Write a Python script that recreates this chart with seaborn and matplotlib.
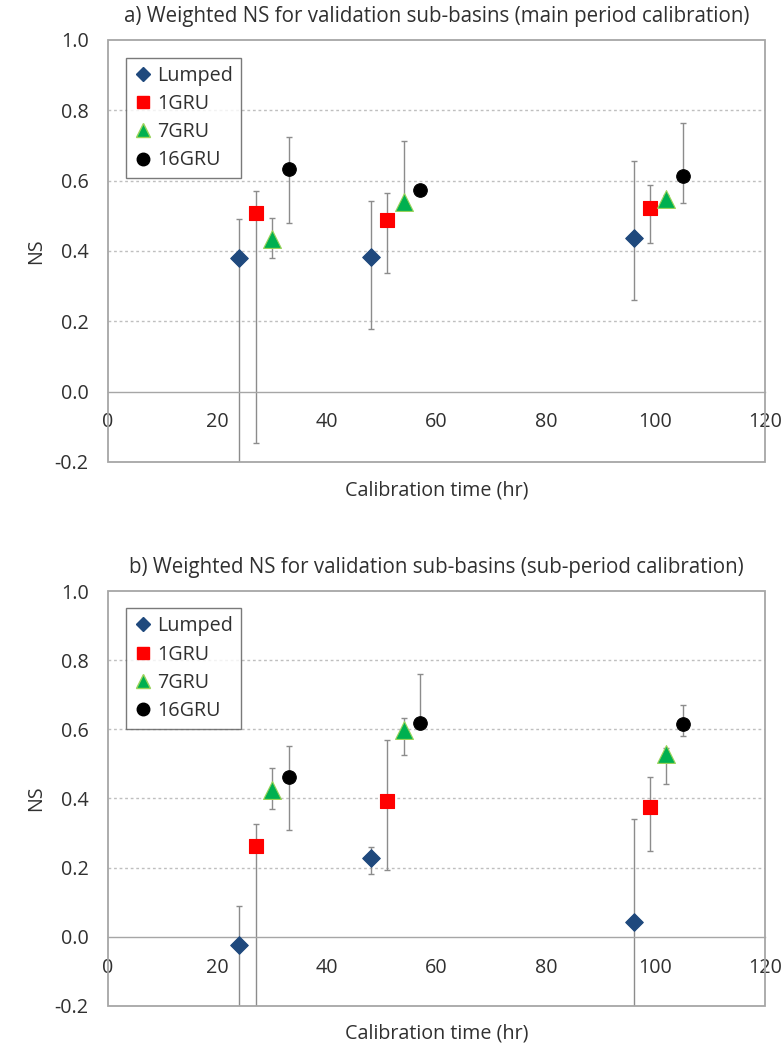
import numpy as np
import pandas as pd
import matplotlib
matplotlib.use("Agg")
import matplotlib.pyplot as plt
from matplotlib.lines import Line2D
from matplotlib.patches import Rectangle
import seaborn as sns

# Calibration times (hr) for each model configuration
lumped_x = [24, 48, 96]
gru1_x = [27, 51, 99]
gru7_x = [30, 54, 102]
gru16_x = [33, 57, 105]

# a) main period calibration: weighted NS, with lower / upper range
a_lumped = [0.380, 0.384, 0.437]
a_lumped_lo = [-0.35, 0.177, 0.262]
a_lumped_hi = [0.490, 0.543, 0.656]
a_gru1 = [0.509, 0.489, 0.521]
a_gru1_lo = [-0.146, 0.337, 0.424]
a_gru1_hi = [0.570, 0.564, 0.589]
a_gru7 = [0.435, 0.539, 0.549]
a_gru7_lo = [0.380, 0.520, 0.527]
a_gru7_hi = [0.495, 0.713, 0.560]
a_gru16 = [0.634, 0.572, 0.612]
a_gru16_lo = [0.479, 0.560, 0.535]
a_gru16_hi = [0.723, 0.585, 0.763]

# b) sub-period calibration
b_lumped = [-0.024, 0.227, 0.042]
b_lumped_lo = [-0.35, 0.182, -0.35]
b_lumped_hi = [0.088, 0.261, 0.340]
b_gru1 = [0.262, 0.392, 0.375]
b_gru1_lo = [-0.35, 0.192, 0.247]
b_gru1_hi = [0.325, 0.568, 0.461]
b_gru7 = [0.426, 0.598, 0.530]
b_gru7_lo = [0.370, 0.527, 0.441]
b_gru7_hi = [0.487, 0.632, 0.545]
b_gru16 = [0.463, 0.617, 0.615]
b_gru16_lo = [0.308, 0.600, 0.580]
b_gru16_hi = [0.553, 0.761, 0.670]

models = ["Lumped", "1GRU", "7GRU", "16GRU"]
xs = [lumped_x, gru1_x, gru7_x, gru16_x]
titles = ["a) Weighted NS for validation sub-basins (main period calibration)",
          "b) Weighted NS for validation sub-basins (sub-period calibration)"]
y_ticks = [-0.2, 0.0, 0.2, 0.4, 0.6, 0.8, 1.0]
x_ticks = [0, 20, 40, 60, 80, 100, 120]

panels = [
    ([a_lumped, a_gru1, a_gru7, a_gru16],
     [a_lumped_lo, a_gru1_lo, a_gru7_lo, a_gru16_lo],
     [a_lumped_hi, a_gru1_hi, a_gru7_hi, a_gru16_hi]),
    ([b_lumped, b_gru1, b_gru7, b_gru16],
     [b_lumped_lo, b_gru1_lo, b_gru7_lo, b_gru16_lo],
     [b_lumped_hi, b_gru1_hi, b_gru7_hi, b_gru16_hi]),
]

colors = {"Lumped": "#1F497D", "1GRU": "#FF0000", "7GRU": "#00B050", "16GRU": "#000000"}
edges = {"Lumped": "#1F497D", "1GRU": "#FF0000", "7GRU": "#9BD35A", "16GRU": "#000000"}
markers = {"Lumped": "D", "1GRU": "s", "7GRU": "^", "16GRU": "o"}
sizes = {"Lumped": 80, "1GRU": 100, "7GRU": 165, "16GRU": 95}
legend_ms = {"Lumped": 7, "1GRU": 9, "7GRU": 9.5, "16GRU": 9}

sns.set_style("white")
plt.rcParams["font.family"] = ["Open Sans", "DejaVu Sans"]

fig = plt.figure(figsize=(7.83, 10.49), dpi=100)
axes_rects = [[0.138, 0.5596, 0.839, 0.4023], [0.138, 0.0410, 0.839, 0.3956]]

frame_col = "#A6A6A6"
txt_col = "#303030"
fs = 14.2

for (vals, los, his), rect, title in zip(panels, axes_rects, titles):
    ax = fig.add_axes(rect)
    rows = []
    for m, x, v, lo, hi in zip(models, xs, vals, los, his):
        for xi, vi, li, hi_ in zip(x, v, lo, hi):
            rows.append({"time": xi, "NS": vi, "lo": li, "hi": hi_, "model": m})
    df = pd.DataFrame(rows)

    # range bars first so the markers sit on top
    for m in models:
        d = df[df["model"] == m]
        ax.errorbar(d["time"], d["NS"],
                    yerr=[d["NS"] - d["lo"], d["hi"] - d["NS"]],
                    fmt="none", ecolor="#8C8C8C", elinewidth=1.0,
                    capsize=2.5, capthick=1.0, zorder=2)

    for m in models:
        d = df[df["model"] == m]
        sns.scatterplot(data=d, x="time", y="NS", ax=ax, marker=markers[m],
                        s=sizes[m], color=colors[m], edgecolor=edges[m],
                        linewidth=0.8, zorder=3, legend=False)

    ax.set_xlim(0, 120)
    ax.set_ylim(-0.2, 1.0)
    ax.set_xticks(x_ticks)
    ax.set_yticks(y_ticks)
    ax.set_yticklabels([f"{t:.1f}" for t in y_ticks])
    for t in [0.2, 0.4, 0.6, 0.8]:
        ax.axhline(t, color="#BFBFBF", lw=1.0, ls=(0, (2, 2)), zorder=1)

    # axis line crosses at NS = 0, plot area keeps a full border
    for s in ["left", "right", "top"]:
        ax.spines[s].set_visible(False)
    ax.spines["bottom"].set_position(("data", 0))
    ax.spines["bottom"].set_color(frame_col)
    ax.spines["bottom"].set_linewidth(1.0)
    ax.add_patch(Rectangle((0, 0), 1, 1, transform=ax.transAxes, fill=False,
                           edgecolor=frame_col, lw=1.3, zorder=5, clip_on=False))
    ax.tick_params(axis="x", direction="in", length=5, width=1.0, color=frame_col,
                   pad=15, labelsize=fs, labelcolor=txt_col)
    ax.tick_params(axis="y", length=0, pad=14, labelsize=fs, labelcolor=txt_col)

    ax.set_xlabel("Calibration time (hr)", fontsize=fs, color=txt_col)
    ax.xaxis.set_label_coords(0.5, -0.043)
    ax.set_ylabel("NS", fontsize=fs, color=txt_col)
    ax.yaxis.set_label_coords(-0.094, 0.5)
    ax.set_title(title, fontsize=14.8, color=txt_col, pad=13)

    handles = [Line2D([], [], ls="none", marker=markers[m], color=colors[m],
                      markeredgecolor=edges[m], markersize=legend_ms[m], label=m)
               for m in models]
    leg = ax.legend(handles=handles, loc="upper left", bbox_to_anchor=(0.027, 0.958),
                    fontsize=fs, frameon=True, fancybox=False, handlelength=0.9,
                    handletextpad=0.3, labelspacing=0.42, borderpad=0.4,
                    borderaxespad=0.0)
    leg.get_frame().set_edgecolor("#595959")
    leg.get_frame().set_linewidth(1.0)
    for t in leg.get_texts():
        t.set_color(txt_col)

fig.savefig("out.png", dpi=100, facecolor="white")
